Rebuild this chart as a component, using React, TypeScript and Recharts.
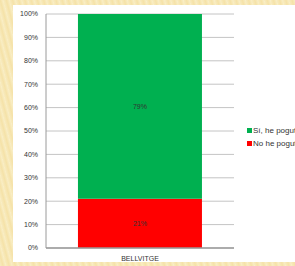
import React from 'react'
import { BarChart, Bar, XAxis, YAxis, CartesianGrid, LabelList } from 'recharts'

const categories = ['BELLVITGE']
const siValues = [79]
const noValues = [21]
const yTicks = [0, 10, 20, 30, 40, 50, 60, 70, 80, 90, 100]
const seriesNames = ['Sí, he pogut', 'No he pogut']
const seriesColors = ['#00b050', '#ff0000']

const data = categories.map((name, i) => ({ name, si: siValues[i], no: noValues[i] }))

const font = '"Liberation Sans", Arial, sans-serif'

export default function App() {
  return (
    <div
      style={{
        position: 'absolute',
        left: 0,
        top: 0,
        width: 295,
        height: 266,
        overflow: 'hidden',
        background: 'repeating-linear-gradient(75deg, #f8ebbf 0px, #f5e2a8 3px, #f9eec6 6px)',
        fontFamily: font,
      }}
    >
      <div style={{ position: 'absolute', left: 13, top: 5, width: 282, height: 257, background: '#fff' }}>
        <BarChart
          width={282}
          height={257}
          data={data}
          margin={{ top: 9, right: 61, bottom: 0, left: 0 }}
          barCategoryGap="17%"
        >
          <CartesianGrid vertical={false} stroke="#c4c4c4" strokeWidth={1} />
          <XAxis
            dataKey="name"
            height={14}
            tickLine={false}
            axisLine={{ stroke: '#9a9a9a', strokeWidth: 1.5 }}
            tick={{ fontSize: 7, fill: '#333', fontFamily: font }}
          />
          <YAxis
            width={33}
            domain={[0, 100]}
            ticks={yTicks}
            interval={0}
            tickLine={false}
            axisLine={{ stroke: '#9a9a9a', strokeWidth: 1 }}
            tickFormatter={(v) => `${v}%`}
            tick={{ fontSize: 7, fill: '#333', fontFamily: font }}
          />
          <Bar dataKey="no" stackId="a" fill={seriesColors[1]} isAnimationActive={false}>
            <LabelList dataKey="no" position="center" formatter={(v: any) => `${v}%`} style={{ fontSize: 7, fill: '#333', fontFamily: font }} />
          </Bar>
          <Bar dataKey="si" stackId="a" fill={seriesColors[0]} isAnimationActive={false}>
            <LabelList dataKey="si" position="center" formatter={(v: any) => `${v}%`} style={{ fontSize: 7, fill: '#333', fontFamily: font }} />
          </Bar>
        </BarChart>
      </div>
      <div style={{ position: 'absolute', left: 247, top: 124, fontSize: 8, color: '#333', whiteSpace: 'nowrap' }}>
        {seriesNames.map((n, i) => (
          <div key={n} style={{ display: 'flex', alignItems: 'center', height: 13 }}>
            <span style={{ width: 5, height: 5, background: seriesColors[i], marginRight: 1, display: 'inline-block' }} />
            {n}
          </div>
        ))}
      </div>
    </div>
  )
}
